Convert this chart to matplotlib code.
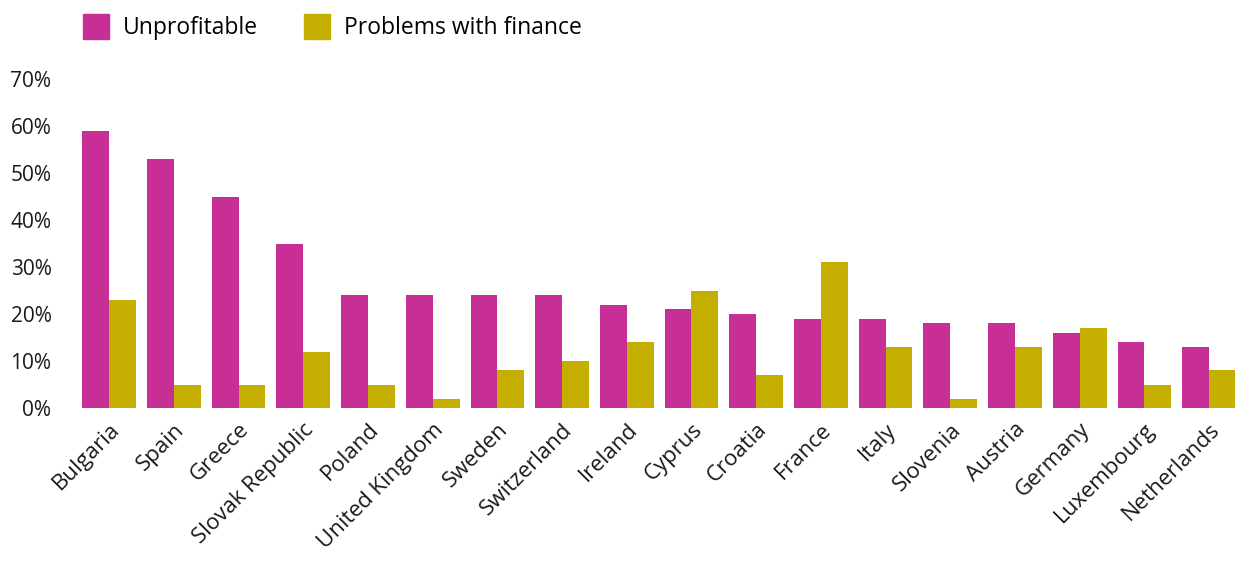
import matplotlib.pyplot as plt
import numpy as np
from matplotlib.patches import Patch

countries = ["Bulgaria", "Spain", "Greece", "Slovak Republic", "Poland", "United Kingdom",
             "Sweden", "Switzerland", "Ireland", "Cyprus", "Croatia", "France", "Italy",
             "Slovenia", "Austria", "Germany", "Luxembourg", "Netherlands"]
unprofitable = [59, 53, 45, 35, 24, 24, 24, 24, 22, 21, 20, 19, 19, 18, 18, 16, 14, 13]
finance = [23, 5, 5, 12, 5, 2, 8, 10, 14, 25, 7, 31, 13, 2, 13, 17, 5, 8]
yticks = [0, 10, 20, 30, 40, 50, 60, 70]

MAGENTA = "#c82f96"
OLIVE = "#c4af00"
TEXT = "#1a1a1a"

plt.rcParams['font.family'] = ['Open Sans', 'DejaVu Sans']

fig = plt.figure(figsize=(12.35, 5.61), dpi=100)
ax = fig.add_axes([82 / 1235, 153 / 561, (1235 - 82) / 1235, (408 - 79) / 561])

x = np.arange(len(countries))
w = 0.415
ax.bar(x - w / 2, unprofitable, w, color=MAGENTA)
ax.bar(x + w / 2, finance, w, color=OLIVE)

ax.set_xlim(-0.42, len(countries) - 1 + 0.40)
ax.set_ylim(0, 70)
ax.set_yticks(yticks)
ax.set_yticklabels([f"{v}%" for v in yticks], fontsize=15, color=TEXT)
ax.set_xticks(x)
ax.set_xticklabels(countries, rotation=45, ha="right", rotation_mode="anchor",
                   fontsize=16, color=TEXT)
ax.tick_params(axis="y", length=0, pad=22)
ax.tick_params(axis="x", length=0, pad=8)
for s in ax.spines.values():
    s.set_visible(False)

handles = [Patch(color=MAGENTA, label="Unprofitable"),
           Patch(color=OLIVE, label="Problems with finance")]
fig.legend(handles=handles, loc="upper left", bbox_to_anchor=(62 / 1235, 1.012),
           ncol=2, frameon=False, fontsize=16.5, handlelength=1.15, handleheight=1.3,
           columnspacing=2.0, handletextpad=0.6)

fig.savefig("out.png", dpi=100)
